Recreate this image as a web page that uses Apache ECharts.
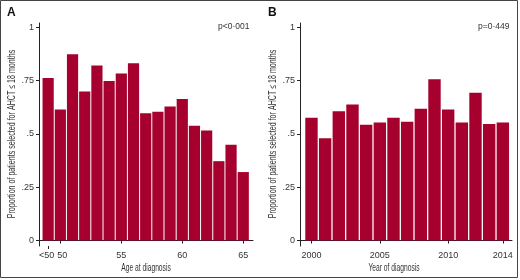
<!DOCTYPE html>
<html>
<head>
<meta charset="utf-8">
<script src="https://cdn.jsdelivr.net/npm/echarts@6/dist/echarts.min.js"></script>
<style>
html, body { margin: 0; padding: 0; background: #fff; }
#chart { width: 520px; height: 280px; }
</style>
</head>
<body>
<div id="chart"></div>
<script>
// panel A: proportion by age at diagnosis (<50 drawn at 49)
var ageCats = ['<50', '50', '51', '52', '53', '54', '55', '56', '57', '58', '59', '60', '61', '62', '63', '64', '65']
var agePos = [49, 50, 51, 52, 53, 54, 55, 56, 57, 58, 59, 60, 61, 62, 63, 64, 65]
var ageVals = [0.762, 0.614, 0.873, 0.698, 0.820, 0.748, 0.783, 0.831, 0.596, 0.604, 0.628, 0.663, 0.538, 0.516, 0.372, 0.449, 0.321]
var ageTicks = [50, 55, 60, 65]
var ageTickLabels = ['{r|50}', '55', '60', '65']
var ageLowTicks = [49]
var ageLowLabels = ['<50']

// panel B: proportion by year of diagnosis
var years = [2000, 2001, 2002, 2003, 2004, 2005, 2006, 2007, 2008, 2009, 2010, 2011, 2012, 2013, 2014]
var yearVals = [0.576, 0.479, 0.606, 0.637, 0.543, 0.553, 0.576, 0.557, 0.618, 0.756, 0.614, 0.553, 0.693, 0.546, 0.553]
var yearTicks = [2000, 2005, 2010, 2014]
var yearTickLabels = ['2000', '2005', '2010', '2014']

var yTicks = [0, 0.25, 0.5, 0.75, 1]
var yTickLabels = ['0', '.25', '.5', '.75', '1']

var barColor = '#a6002e'
var txt = '#333'
var regular = '"Liberation Sans", Arial, sans-serif'
var yTitle = 'Proportion of patients selected for AHCT \u2264 18 months'

function pick(ticks, labels) {
    return function(v) {
        for (var i = 0; i < ticks.length; i++) {
            if (Math.abs(ticks[i] - v) < 1e-6) return labels[i]
        }
        return ''
    }
}

function xAxisOf(idx, min, max, ticks, labels, showLine, pad) {
    return {
        type: 'value',
        gridIndex: idx,
        min: min,
        max: max,
        position: 'bottom',
        axisLine: { show: showLine, lineStyle: { color: '#222', width: 1 } },
        axisTick: { show: true, length: 3, customValues: ticks, lineStyle: { color: '#222' } },
        axisLabel: { customValues: ticks, formatter: pick(ticks, labels), margin: 5, padding: pad || 0,
            fontFamily: regular, fontSize: 9, color: txt,
            rich: { r: { padding: [0, 0, 0, 4], fontFamily: regular, fontSize: 9, color: txt } } },
        splitLine: { show: false }
    }
}

function yAxisOf(idx) {
    return {
        type: 'value',
        gridIndex: idx,
        min: -0.0255,
        max: 1.0195,
        axisLine: { show: true, lineStyle: { color: '#222', width: 1 } },
        axisTick: { show: true, length: 3, customValues: yTicks, lineStyle: { color: '#222' } },
        axisLabel: { customValues: yTicks, formatter: pick(yTicks, yTickLabels), margin: 5,
            fontFamily: regular, fontSize: 9, color: txt },
        splitLine: { show: false }
    }
}

// condensed-looking titles: regular font squeezed horizontally
function title(text, x, y, vertical) {
    return {
        type: 'text', x: x, y: y,
        rotation: vertical ? Math.PI / 2 : 0,
        scaleX: vertical ? 0.71 : 0.67,
        silent: true,
        style: { text: text, font: '10px "Liberation Sans", Arial', fill: txt, align: 'center', verticalAlign: 'middle' }
    }
}

var chart = echarts.init(document.getElementById('chart'))
var option = {
    animation: false,
    backgroundColor: '#fff',
    grid: [
        { left: 39, top: 23, width: 214, height: 223 },
        { left: 300, top: 23, width: 212, height: 223 }
    ],
    xAxis: [
        xAxisOf(0, 48.25, 65.8, ageTicks, ageTickLabels, true),
        xAxisOf(1, 1999.16, 2014.67, yearTicks, yearTickLabels, true),
        // second bottom axis on panel A only for the "<50" label
        xAxisOf(0, 48.25, 65.8, ageLowTicks, ageLowLabels, false, [0, 3, 0, 0])
    ],
    yAxis: [yAxisOf(0), yAxisOf(1)],
    series: [
        {
            type: 'bar',
            xAxisIndex: 0,
            yAxisIndex: 0,
            barWidth: 11.2,
            itemStyle: { color: barColor },
            data: ageVals.map(function(v, i) { return { name: ageCats[i], value: [agePos[i], v] } })
        },
        {
            type: 'bar',
            xAxisIndex: 1,
            yAxisIndex: 1,
            barWidth: 12.4,
            itemStyle: { color: barColor },
            data: yearVals.map(function(v, i) { return [years[i], v] })
        }
    ],
    graphic: [
        { type: 'rect', shape: { x: 0.5, y: 0.5, width: 517, height: 277 },
            style: { fill: 'none', stroke: '#444', lineWidth: 1 }, silent: true },
        { type: 'text', left: 7, top: 7, style: { text: 'A', font: 'bold 12px "Liberation Sans", Arial', fill: '#111' } },
        { type: 'text', left: 268, top: 7, style: { text: 'B', font: 'bold 12px "Liberation Sans", Arial', fill: '#111' } },
        { type: 'text', left: 218, top: 22, style: { text: 'p<0\u00b7001', font: '8.5px "Liberation Sans", Arial', fill: txt } },
        { type: 'text', left: 478, top: 22, style: { text: 'p=0\u00b7449', font: '8.5px "Liberation Sans", Arial', fill: txt } },
        title('Age at diagnosis', 146, 268, false),
        title('Year of diagnosis', 394, 268, false),
        title(yTitle, 12, 134, true),
        title(yTitle, 273, 134, true)
    ]
}
chart.setOption(option)
</script>
</body>
</html>
